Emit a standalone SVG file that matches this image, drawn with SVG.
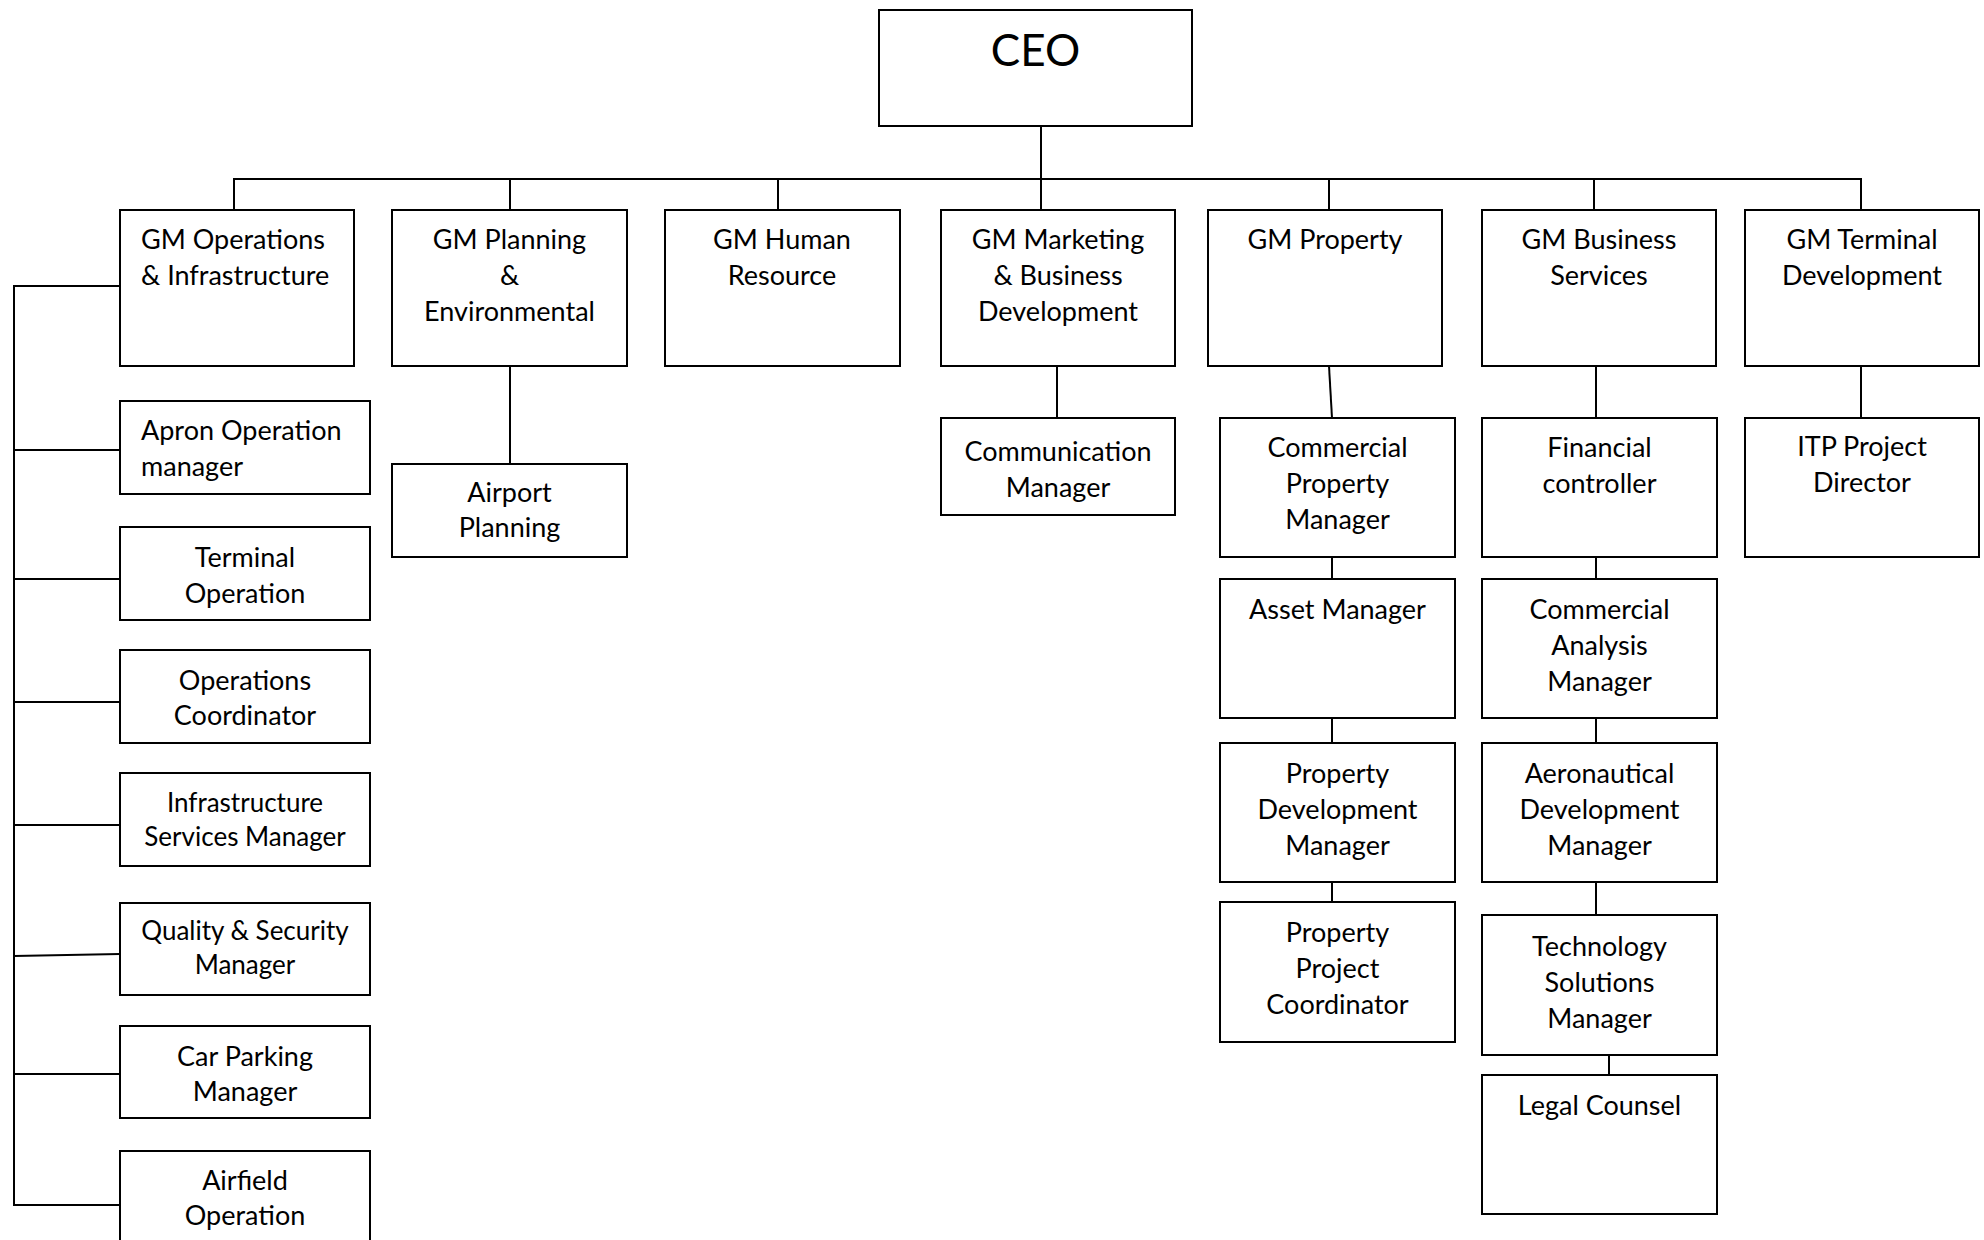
<svg xmlns="http://www.w3.org/2000/svg" width="1984" height="1240" viewBox="0 0 1984 1240">
<style>
.box{fill:#fff;stroke:#000;stroke-width:2}
.ln{fill:none;stroke:#000;stroke-width:2}
text{font-family:Lato,"Open Sans","Liberation Sans",sans-serif;font-size:27px;fill:#000;text-anchor:middle}
.l{text-anchor:start}
.s{font-size:26px}
.ceo{font-size:44px}
</style>
<rect width="1984" height="1240" fill="#fff"/>
<g id="connectors">
<polyline class="ln" points="1041,126 1041,210"/>
<polyline class="ln" points="234,210 234,179 1861,179 1861,210"/>
<line class="ln" x1="510" y1="179" x2="510" y2="210"/>
<line class="ln" x1="778" y1="179" x2="778" y2="210"/>
<line class="ln" x1="1329" y1="179" x2="1329" y2="210"/>
<line class="ln" x1="1594" y1="179" x2="1594" y2="210"/>
<polyline class="ln" points="120,286 14,286 14,1205 120,1205"/>
<line class="ln" x1="14" y1="450" x2="120" y2="450"/>
<line class="ln" x1="14" y1="579" x2="120" y2="579"/>
<line class="ln" x1="14" y1="702" x2="120" y2="702"/>
<line class="ln" x1="14" y1="825" x2="120" y2="825"/>
<line class="ln" x1="14" y1="956" x2="120" y2="954"/>
<line class="ln" x1="14" y1="1074" x2="120" y2="1074"/>
<line class="ln" x1="510" y1="366" x2="510" y2="464"/>
<line class="ln" x1="1057" y1="366" x2="1057" y2="418"/>
<line class="ln" x1="1329" y1="366" x2="1332" y2="418"/>
<line class="ln" x1="1332" y1="557" x2="1332" y2="579"/>
<line class="ln" x1="1332" y1="718" x2="1332" y2="743"/>
<line class="ln" x1="1332" y1="882" x2="1332" y2="902"/>
<line class="ln" x1="1596" y1="366" x2="1596" y2="418"/>
<line class="ln" x1="1596" y1="557" x2="1596" y2="579"/>
<line class="ln" x1="1596" y1="718" x2="1596" y2="743"/>
<line class="ln" x1="1596" y1="882" x2="1596" y2="915"/>
<line class="ln" x1="1609" y1="1055" x2="1609" y2="1075"/>
<line class="ln" x1="1861" y1="366" x2="1861" y2="418"/>
</g>
<g id="ceo"><rect class="box" x="879" y="10" width="313" height="116"/><text class="ceo" x="1035.5" y="66">CEO</text></g>
<g id="gm-ops"><rect class="box" x="120" y="210" width="234" height="156"/><text class="l" x="141" y="249">GM Operations</text><text class="l" x="141" y="285">&amp; Infrastructure</text></g>
<g id="gm-planning"><rect class="box" x="392" y="210" width="235" height="156"/><text x="509.5" y="249">GM Planning</text><text x="509.5" y="285">&amp;</text><text x="509.5" y="321">Environmental</text></g>
<g id="gm-hr"><rect class="box" x="665" y="210" width="235" height="156"/><text x="782" y="249">GM Human</text><text x="782" y="285">Resource</text></g>
<g id="gm-marketing"><rect class="box" x="941" y="210" width="234" height="156"/><text x="1058" y="249">GM Marketing</text><text x="1058" y="285">&amp; Business</text><text x="1058" y="321">Development</text></g>
<g id="gm-property"><rect class="box" x="1208" y="210" width="234" height="156"/><text x="1325" y="249">GM Property</text></g>
<g id="gm-business"><rect class="box" x="1482" y="210" width="234" height="156"/><text x="1599" y="249">GM Business</text><text x="1599" y="285">Services</text></g>
<g id="gm-terminal"><rect class="box" x="1745" y="210" width="234" height="156"/><text x="1862" y="249">GM Terminal</text><text x="1862" y="285">Development</text></g>
<g id="apron"><rect class="box" x="120" y="401" width="250" height="93"/><text class="l" x="141" y="440">Apron Operation</text><text class="l" x="141" y="476">manager</text></g>
<g id="terminal-op"><rect class="box" x="120" y="527" width="250" height="93"/><text x="245" y="567">Terminal</text><text x="245" y="603">Operation</text></g>
<g id="ops-coord"><rect class="box" x="120" y="650" width="250" height="93"/><text x="245" y="690">Operations</text><text x="245" y="725">Coordinator</text></g>
<g id="infra"><rect class="box" x="120" y="773" width="250" height="93"/><text class="s" x="245" y="812">Infrastructure</text><text class="s" x="245" y="846">Services Manager</text></g>
<g id="quality"><rect class="box" x="120" y="903" width="250" height="92"/><text class="s" x="245" y="940">Quality &amp; Security</text><text class="s" x="245" y="974">Manager</text></g>
<g id="car-parking"><rect class="box" x="120" y="1026" width="250" height="92"/><text x="245" y="1066">Car Parking</text><text x="245" y="1101">Manager</text></g>
<g id="airfield"><rect class="box" x="120" y="1151" width="250" height="100"/><text x="245" y="1190">Airfield</text><text x="245" y="1225">Operation</text></g>
<g id="airport-planning"><rect class="box" x="392" y="464" width="235" height="93"/><text x="509.5" y="502">Airport</text><text x="509.5" y="537">Planning</text></g>
<g id="communication"><rect class="box" x="941" y="418" width="234" height="97"/><text x="1058" y="461">Communication</text><text x="1058" y="497">Manager</text></g>
<g id="comm-property"><rect class="box" x="1220" y="418" width="235" height="139"/><text x="1337.5" y="457">Commercial</text><text x="1337.5" y="493">Property</text><text x="1337.5" y="529">Manager</text></g>
<g id="asset"><rect class="box" x="1220" y="579" width="235" height="139"/><text x="1337.5" y="619">Asset Manager</text></g>
<g id="prop-dev"><rect class="box" x="1220" y="743" width="235" height="139"/><text x="1337.5" y="783">Property</text><text x="1337.5" y="819">Development</text><text x="1337.5" y="855">Manager</text></g>
<g id="prop-project"><rect class="box" x="1220" y="902" width="235" height="140"/><text x="1337.5" y="942">Property</text><text x="1337.5" y="978">Project</text><text x="1337.5" y="1014">Coordinator</text></g>
<g id="financial"><rect class="box" x="1482" y="418" width="235" height="139"/><text x="1599.5" y="457">Financial</text><text x="1599.5" y="493">controller</text></g>
<g id="comm-analysis"><rect class="box" x="1482" y="579" width="235" height="139"/><text x="1599.5" y="619">Commercial</text><text x="1599.5" y="655">Analysis</text><text x="1599.5" y="691">Manager</text></g>
<g id="aero"><rect class="box" x="1482" y="743" width="235" height="139"/><text x="1599.5" y="783">Aeronautical</text><text x="1599.5" y="819">Development</text><text x="1599.5" y="855">Manager</text></g>
<g id="tech"><rect class="box" x="1482" y="915" width="235" height="140"/><text x="1599.5" y="956">Technology</text><text x="1599.5" y="992">Solutions</text><text x="1599.5" y="1028">Manager</text></g>
<g id="legal"><rect class="box" x="1482" y="1075" width="235" height="139"/><text x="1599.5" y="1115">Legal Counsel</text></g>
<g id="itp"><rect class="box" x="1745" y="418" width="234" height="139"/><text x="1862" y="456">ITP Project</text><text x="1862" y="492">Director</text></g>
</svg>
